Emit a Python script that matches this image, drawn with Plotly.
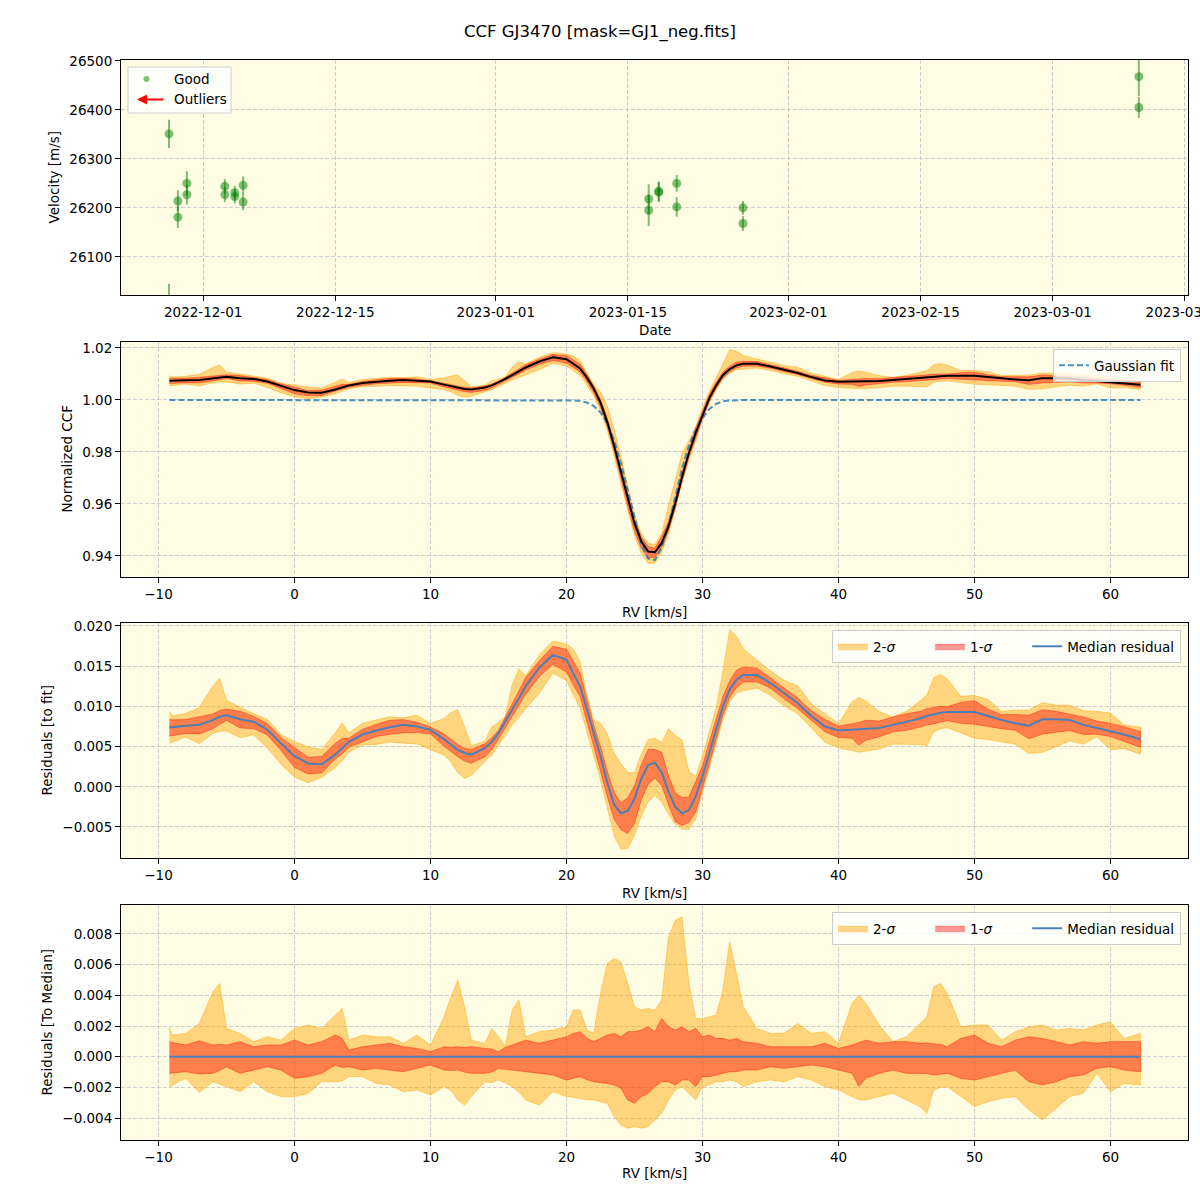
import plotly.graph_objects as go

# ---------------- Top panel: velocity time series ----------------
good_dates = ["2022-11-27 09:00", "2022-11-28 07:40", "2022-11-28 07:40", "2022-11-29 06:30",
              "2022-11-29 06:30", "2022-12-03 07:00", "2022-12-03 07:00", "2022-12-04 08:20",
              "2022-12-04 08:20", "2022-12-05 05:30", "2022-12-05 05:30", "2023-01-17 04:45",
              "2023-01-17 04:45", "2023-01-18 06:15", "2023-01-18 06:15", "2023-01-20 04:00",
              "2023-01-20 04:00", "2023-01-27 04:20", "2023-01-27 04:20", "2023-03-10 03:00",
              "2023-03-10 03:00", "2022-11-27 09:00"]
good_rv = [26351, 26214, 26181, 26250, 26227, 26244, 26227, 26231, 26223, 26246, 26212,
           26218, 26195, 26234, 26232, 26250, 26202, 26200, 26168, 26468, 26405, 26005]
good_err = [29, 22, 22, 25, 20, 15, 15, 14, 14, 18, 17, 30, 32, 20, 20, 17, 20, 14, 15, 40, 21, 40]
date_ticks = ["2022-12-01", "2022-12-15", "2023-01-01", "2023-01-15", "2023-02-01",
              "2023-02-15", "2023-03-01", "2023-03-15"]

# ---------------- CCF panels ----------------
rv = [-9.2, -9, -8, -7, -6, -5.5, -5, -4, -3, -2, -1, 0, 1, 2, 3, 3.5, 4, 5, 6, 7, 8, 9, 10,
      11, 11.5, 12, 12.5, 13, 14, 14.5, 15, 15.5, 16, 16.5, 17, 18, 19, 20, 20.5, 21, 21.5,
      22, 22.5, 23, 23.5, 24, 24.5, 25, 25.5, 26, 26.5, 27, 27.5, 28, 28.5, 29, 29.5, 30,
      30.5, 31, 31.5, 32, 32.5, 33, 34, 35, 36, 37, 38, 39, 40, 41, 41.5, 42, 43, 44, 45, 46,
      46.5, 47, 47.5, 48, 49, 50, 51, 52, 53, 54, 55, 56, 57, 58, 59, 60, 61, 62.2]

# Gaussian fit (normalized CCF)
gauss_fit = ([1.0] * 37 +
             [0.9999, 0.9998, 0.9996, 0.9990, 0.9977, 0.9952, 0.9910, 0.9845, 0.9757, 0.9651,
              0.9540, 0.9446, 0.9390, 0.9384, 0.9432, 0.9520, 0.9628, 0.9737, 0.9825, 0.9885,
              0.9930, 0.9965, 0.9985, 0.9995, 0.9998, 1.0, 1.0] +
             [1.0] * 32)

# median residual to fit (units of 1e-3)
med_res_e3 = [7.4, 7.4, 7.6, 7.7, 8.3, 8.7, 8.9, 8.4, 8.1, 7.1, 5.4, 3.8, 2.9, 2.8, 4.0, 4.8,
              5.6, 6.5, 7.0, 7.4, 7.7, 7.5, 7.1, 5.9, 5.3, 4.6, 4.2, 4.0, 4.8, 5.6, 6.7, 8.1,
              9.6, 11.0, 12.5, 14.8, 16.4, 15.8, 14.1, 12.5, 9.6, 6.7, 3.8, 0.5, -2.2, -3.3,
              -3.0, -1.5, 1.0, 2.7, 3.0, 1.8, -0.6, -2.5, -3.3, -2.9, -1.2, 1.3, 4.2, 7.1, 10.0,
              12.1, 13.3, 13.9, 13.9, 12.9, 11.7, 10.4, 8.8, 7.5, 7.0, 7.1, 7.1, 7.2, 7.3, 7.7,
              8.1, 8.5, 8.8, 9.0, 9.2, 9.3, 9.3, 9.3, 8.8, 8.3, 7.9, 7.6, 8.4, 8.4, 8.3, 7.7,
              7.3, 6.9, 6.5, 5.9]

# spread relative to the median (units of 1e-3)
sig1_hi_e3 = [0.98, 0.93, 0.76, 1.04, 0.76, 0.80, 0.76, 0.98, 0.65, 0.76, 0.76, 1.08, 0.76,
              0.98, 1.41, 1.20, 0.43, 0.65, 0.76, 0.87, 0.65, 0.54, 0.33, 0.65, 0.60, 0.65,
              0.60, 0.65, 0.54, 0.50, 0.33, 0.60, 0.76, 0.90, 1.08, 0.87, 1.08, 1.30, 1.52,
              1.63, 1.20, 0.98, 1.19, 1.41, 1.52, 1.30, 1.63, 1.63, 1.74, 1.95, 1.63, 2.49,
              1.95, 1.74, 1.95, 1.63, 1.84, 1.30, 1.41, 1.19, 1.19, 1.08, 1.19, 0.98, 0.87,
              0.65, 0.65, 0.65, 0.65, 0.87, 0.54, 0.76, 0.90, 1.08, 0.87, 0.98, 0.98, 0.87,
              0.90, 0.87, 0.80, 0.65, 1.19, 1.41, 0.87, 0.65, 1.08, 1.30, 1.19, 0.98, 0.76,
              0.98, 0.87, 0.98, 0.98, 0.98]
sig1_lo_e3 = [-1.08, -1.04, -0.98, -1.13, -1.08, -0.90, -0.65, -1.08, -0.87, -0.65, -0.87,
              -1.41, -1.30, -1.08, -0.54, -0.70, -0.65, -0.87, -0.76, -0.87, -0.98, -0.76,
              -0.54, -0.87, -0.90, -0.87, -1.00, -1.08, -1.08, -1.00, -0.76, -0.80, -0.87,
              -0.90, -0.98, -1.08, -1.19, -1.52, -1.40, -1.30, -1.50, -1.63, -1.70, -1.74,
              -1.84, -2.06, -2.82, -3.04, -2.60, -2.39, -1.95, -1.63, -1.63, -1.84, -1.52,
              -1.52, -1.95, -1.30, -1.30, -1.19, -1.08, -0.98, -0.98, -0.87, -0.87, -0.65,
              -0.76, -0.65, -0.54, -0.65, -0.87, -1.08, -1.95, -1.41, -1.08, -0.87, -1.08,
              -1.08, -1.10, -1.19, -1.15, -1.08, -1.41, -1.52, -1.30, -1.08, -0.87, -1.63,
              -1.84, -1.63, -1.30, -1.19, -0.76, -0.65, -0.87, -0.98]
sig2_hi_e3 = [1.95, 1.41, 1.52, 2.17, 4.23, 4.77, 1.84, 1.52, 0.98, 1.30, 1.08, 1.84, 2.06,
              1.84, 2.71, 3.15, 1.08, 1.41, 1.30, 1.30, 0.87, 1.41, 0.76, 2.60, 3.90, 4.99,
              3.25, 1.08, 0.87, 1.84, 1.30, 0.65, 3.04, 3.69, 1.30, 1.63, 1.74, 1.95, 3.04,
              3.04, 1.74, 1.52, 4.12, 6.07, 6.40, 6.18, 4.77, 3.25, 3.04, 3.15, 3.04, 3.69,
              7.81, 8.89, 9.11, 4.77, 2.49, 2.49, 2.60, 2.71, 4.34, 7.48, 5.42, 3.25, 1.84,
              1.52, 1.52, 2.17, 1.52, 1.63, 0.87, 3.47, 4.01, 3.47, 2.06, 0.98, 1.30, 2.17,
              2.60, 4.56, 4.77, 4.12, 1.95, 2.06, 2.06, 1.08, 1.63, 1.95, 2.06, 1.74, 1.84,
              1.74, 2.06, 2.28, 1.19, 1.52]
sig2_lo_e3 = [-2.00, -1.84, -1.41, -2.34, -1.63, -1.80, -1.95, -2.28, -1.63, -2.28, -2.60,
              -2.60, -2.39, -1.63, -1.63, -1.60, -1.30, -1.30, -1.74, -1.84, -2.28, -2.17,
              -2.49, -1.95, -2.20, -2.82, -3.15, -2.60, -1.63, -1.70, -1.52, -1.70, -1.95,
              -2.30, -2.82, -3.15, -2.28, -2.60, -2.65, -2.71, -2.80, -2.82, -2.93, -3.04,
              -3.90, -4.45, -4.66, -4.56, -4.66, -4.56, -4.12, -3.69, -2.82, -2.17, -1.95,
              -2.39, -2.82, -1.95, -1.84, -1.63, -1.63, -1.52, -1.63, -1.95, -1.63, -1.52,
              -1.63, -1.30, -1.52, -1.95, -2.17, -2.60, -2.80, -2.82, -2.60, -2.39, -2.82,
              -3.25, -3.69, -2.17, -2.00, -1.95, -2.60, -3.25, -2.93, -2.71, -2.60, -3.47,
              -4.12, -3.36, -2.60, -2.39, -1.08, -2.28, -1.74, -1.84]

x_ticks = [-10, 0, 10, 20, 30, 40, 50, 60]

# ---------------- derived series ----------------
k = 1e-3
med = [v * k for v in med_res_e3]
d1h = [v * k for v in sig1_hi_e3]
d1l = [v * k for v in sig1_lo_e3]
d2h = [v * k for v in sig2_hi_e3]
d2l = [v * k for v in sig2_lo_e3]
r1h = [m + d for m, d in zip(med, d1h)]
r1l = [m + d for m, d in zip(med, d1l)]
r2h = [m + d for m, d in zip(med, d2h)]
r2l = [m + d for m, d in zip(med, d2l)]
ccf = [f + m for f, m in zip(gauss_fit, med)]
c1h = [f + v for f, v in zip(gauss_fit, r1h)]
c1l = [f + v for f, v in zip(gauss_fit, r1l)]
c2h = [f + v for f, v in zip(gauss_fit, r2h)]
c2l = [f + v for f, v in zip(gauss_fit, r2l)]
zeros = [0.0 for _ in rv]

FONT = "DejaVu Sans"
BG = "#fefce3"
C2_FILL = "rgba(255,165,0,0.45)"
C2_LINE = "rgba(255,165,0,0.45)"
C1_FILL = "rgba(255,0,0,0.40)"
C1_LINE = "rgba(255,0,0,0.40)"
MED_C = "#4a80b6"
NB = "\u00a0"

fig = go.Figure()


def band(lo, hi, fill, line, name, xa, ya, legend, showlegend):
    return go.Scatter(x=rv + rv[::-1], y=hi + lo[::-1], mode="lines", fill="toself",
                      fillcolor=fill, line=dict(color=line, width=1), name=name,
                      xaxis=xa, yaxis=ya, legend=legend, showlegend=showlegend,
                      hoverinfo="skip")


# Panel 1
fig.add_trace(go.Scatter(x=good_dates, y=good_rv, mode="markers",
                         marker=dict(color="rgba(0,128,0,0.5)", size=9),
                         error_y=dict(type="data", array=good_err, color="rgba(0,128,0,0.5)",
                                      thickness=2, width=0),
                         xaxis="x", yaxis="y", showlegend=False))

# Panel 2
fig.add_trace(band(c2l, c2h, C2_FILL, C2_LINE, "2-σ", "x2", "y2", "legend2", False))
fig.add_trace(band(c1l, c1h, C1_FILL, C1_LINE, "1-σ", "x2", "y2", "legend2", False))
fig.add_trace(go.Scatter(x=rv, y=gauss_fit, mode="lines", name="Gaussian fit",
                         line=dict(color="rgba(31,119,180,0.8)", width=2, dash="6px,3px"),
                         xaxis="x2", yaxis="y2", legend="legend2"))
fig.add_trace(go.Scatter(x=rv, y=ccf, mode="lines", line=dict(color="black", width=2),
                         xaxis="x2", yaxis="y2", showlegend=False))

name2 = "2-<i>σ</i>" + NB * 7
name1 = "1-<i>σ</i>" + NB * 7

# Panel 3
fig.add_trace(band(r2l, r2h, C2_FILL, C2_LINE, name2, "x3", "y3", "legend3", True))
fig.add_trace(band(r1l, r1h, C1_FILL, C1_LINE, name1, "x3", "y3", "legend3", True))
fig.add_trace(go.Scatter(x=rv, y=med, mode="lines", name="Median residual",
                         line=dict(color=MED_C, width=2), xaxis="x3", yaxis="y3",
                         legend="legend3"))

# Panel 4
fig.add_trace(band(d2l, d2h, C2_FILL, C2_LINE, name2, "x4", "y4", "legend4", True))
fig.add_trace(band(d1l, d1h, C1_FILL, C1_LINE, name1, "x4", "y4", "legend4", True))
fig.add_trace(go.Scatter(x=rv, y=zeros, mode="lines", name="Median residual",
                         line=dict(color=MED_C, width=2), xaxis="x4", yaxis="y4",
                         legend="legend4"))

W = H = 1200.0


def py(p):
    return 1 - p / H


def px(p):
    return p / W


axis_common = dict(showline=True, mirror=True, linecolor="black", linewidth=1,
                   ticks="outside", ticklen=5, tickcolor="black", tickwidth=1,
                   showgrid=True, gridcolor="#cdcdcd", griddash="4px,2px", gridwidth=1,
                   zeroline=False, automargin=False, ticklabeloverflow="allow",
                   tickfont=dict(family=FONT, size=13.5, color="black"))

leg_common = dict(bgcolor="rgba(255,255,255,0.8)", bordercolor="#cccccc", borderwidth=1,
                  font=dict(family=FONT, size=13.5, color="black"))

xdom = [px(121), px(1188)]
fig.update_layout(
    width=1200, height=1200, margin=dict(l=0, r=0, t=0, b=0, autoexpand=False),
    paper_bgcolor="white", plot_bgcolor=BG,
    font=dict(family=FONT, size=13.5, color="black"),
    xaxis=dict(domain=xdom, anchor="y", type="date",
               range=["2022-11-22 07:00", "2023-03-15 08:00"],
               tickvals=date_ticks, ticktext=date_ticks, **axis_common),
    yaxis=dict(domain=[py(295), py(60)], anchor="x", range=[26022, 26502],
               tickvals=[26100, 26200, 26300, 26400, 26500], tickformat="d", **axis_common),
    xaxis2=dict(domain=xdom, anchor="y2", range=[-12.76, 65.70], tickvals=x_ticks,
                **axis_common),
    yaxis2=dict(domain=[py(577), py(342)], anchor="x2", range=[0.9319, 1.0223],
                tickvals=[0.94, 0.96, 0.98, 1.00, 1.02], tickformat=".2f", **axis_common),
    xaxis3=dict(domain=xdom, anchor="y3", range=[-12.76, 65.70], tickvals=x_ticks,
                **axis_common),
    yaxis3=dict(domain=[py(858), py(623)], anchor="x3", range=[-0.00886, 0.02037],
                tickvals=[-0.005, 0.0, 0.005, 0.01, 0.015, 0.02], tickformat=".3f",
                **axis_common),
    xaxis4=dict(domain=xdom, anchor="y4", range=[-12.76, 65.70], tickvals=x_ticks,
                **axis_common),
    yaxis4=dict(domain=[py(1140), py(905)], anchor="x4", range=[-0.00543, 0.00989],
                tickvals=[-0.004, -0.002, 0.0, 0.002, 0.004, 0.006, 0.008], tickformat=".3f",
                **axis_common),
    legend2=dict(x=px(1181), xanchor="right", y=py(349), yanchor="top", **leg_common),
    legend3=dict(x=px(1181), xanchor="right", y=py(630), yanchor="top", orientation="h",
                 **leg_common),
    legend4=dict(x=px(1181), xanchor="right", y=py(912), yanchor="top", orientation="h",
                 **leg_common),
)

ann = []
shapes = []
ann.append(dict(text="CCF GJ3470 [mask=GJ1_neg.fits]", x=0.5, y=py(32), xref="paper",
                yref="paper", showarrow=False, font=dict(family=FONT, size=16.5),
                xanchor="center", yanchor="middle"))
for txt, yy in [("Date", 330), ("RV [km/s]", 612), ("RV [km/s]", 893), ("RV [km/s]", 1173)]:
    ann.append(dict(text=txt, x=(xdom[0] + xdom[1]) / 2, y=py(yy), xref="paper", yref="paper",
                    showarrow=False, font=dict(family=FONT, size=13.5), xanchor="center",
                    yanchor="middle"))
for txt, xx, yy in [("Velocity [m/s]", 53, 177.5), ("Normalized CCF", 66, 459.5),
                    ("Residuals [to fit]", 46, 740.5), ("Residuals [To Median]", 46, 1022.5)]:
    ann.append(dict(text=txt, x=px(xx), y=py(yy), xref="paper", yref="paper", showarrow=False,
                    textangle=-90, font=dict(family=FONT, size=13.5), xanchor="center",
                    yanchor="middle"))

# legend of the top panel (drawn manually: dot + arrow)
shapes.append(dict(type="rect", xref="paper", yref="paper", x0=px(128), x1=px(231),
                   y0=py(113), y1=py(67), fillcolor="rgba(255,255,255,0.8)",
                   line=dict(color="#cccccc", width=1)))
shapes.append(dict(type="circle", xref="paper", yref="paper", x0=px(143.5), x1=px(149.5),
                   y0=py(82), y1=py(76), fillcolor="rgba(0,128,0,0.5)",
                   line=dict(width=0)))
ann.append(dict(text="", x=px(137), y=py(99.5), xref="paper", yref="paper", showarrow=True,
                ax=28, ay=0, axref="pixel", ayref="pixel", arrowhead=2, arrowsize=1,
                arrowwidth=2, arrowcolor="red"))
ann.append(dict(text="Good", x=px(172), y=py(79), xref="paper", yref="paper",
                showarrow=False, xanchor="left", yanchor="middle",
                font=dict(family=FONT, size=13.5)))
ann.append(dict(text="Outliers", x=px(172), y=py(99.5), xref="paper", yref="paper",
                showarrow=False, xanchor="left", yanchor="middle",
                font=dict(family=FONT, size=13.5)))

fig.update_layout(annotations=ann, shapes=shapes)
fig.write_html("out.html")
